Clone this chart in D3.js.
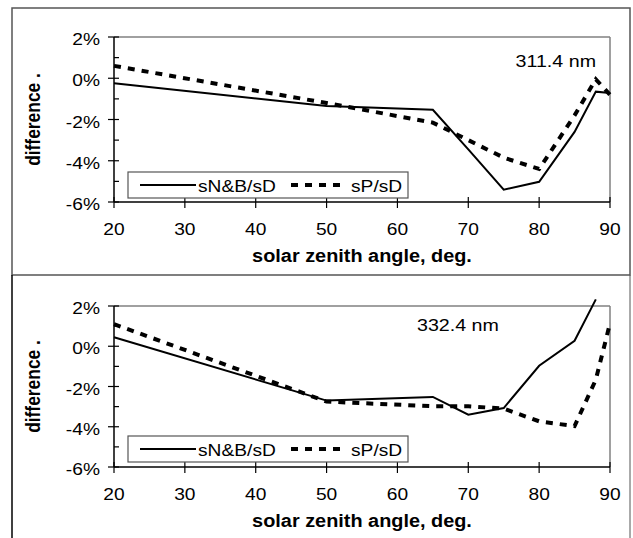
<!DOCTYPE html>
<html>
<head>
<meta charset="utf-8">
<script src="https://cdn.jsdelivr.net/npm/d3@7"></script>
<style>
  html, body { margin: 0; padding: 0; background: #fff; }
  svg { display: block; }
  text { font-family: "Liberation Sans", Arial, sans-serif; fill: #000; }
</style>
</head>
<body>
<svg id="chart" width="633" height="538"></svg>
<script>
// ---------------- data ----------------
const sza = [20, 50, 65, 70, 75, 80, 85, 88, 90];
const top_NB = [-0.24, -1.35, -1.53, -3.45, -5.40, -5.02, -2.60, -0.65, -0.72];
const top_P  = [0.60, -1.20, -2.15, -3.00, -3.85, -4.40, -1.80, -0.05, -0.80];
const bot_NB = [0.45, -2.70, -2.52, -3.40, -3.07, -0.97, 0.27, 2.33, null];
const bot_P  = [1.10, -2.75, -2.98, -2.98, -3.10, -3.73, -3.97, -1.66, 1.14];
const xTicks = [20, 30, 40, 50, 60, 70, 80, 90];
const yTicks = [-6, -4, -2, 0, 2];
const yMinor = [-5, -3, -1, 1];
const seriesNames = ["sN&B/sD", "sP/sD"];
const panelLabels = ["311.4 nm", "332.4 nm"];
const xTitle = "solar zenith angle, deg.";
const yTitle = "difference   .";

// ---------------- layout ----------------
const SX = 1.13; // horizontal stretch of text
const svg = d3.select("#chart");

// outer frames
svg.append("rect").attr("x", 12).attr("y", 8).attr("width", 618).attr("height", 267)
  .attr("fill", "none").attr("stroke", "#555").attr("stroke-width", 1.5);
svg.append("line").attr("x1", 12).attr("x2", 12).attr("y1", 275).attr("y2", 538)
  .attr("stroke", "#000").attr("stroke-width", 1.5);
svg.append("line").attr("x1", 630).attr("x2", 630).attr("y1", 275).attr("y2", 538)
  .attr("stroke", "#555").attr("stroke-width", 1);

function txt(g, x, y, s, opts = {}) {
  const t = g.append("text")
    .attr("transform", `translate(${x},${y}) scale(${opts.sx || SX},1)` + (opts.rot ? ` rotate(${opts.rot})` : ""))
    .attr("font-size", opts.size || 17)
    .attr("text-anchor", opts.anchor || "start")
    .text(s);
  if (opts.bold) t.attr("font-weight", "bold");
  return t;
}

function panel(cfg) {
  const g = svg.append("g");
  const x = d3.scaleLinear().domain([20, 90]).range([114, 610]);
  const y = d3.scaleLinear().domain([-6, 2]).range([cfg.y1, cfg.y0]);

  // plot frame (top & right gray)
  g.append("line").attr("x1", x(20)).attr("x2", x(90)).attr("y1", y(2)).attr("y2", y(2))
    .attr("stroke", "#808080").attr("stroke-width", 1.5);
  g.append("line").attr("x1", x(90)).attr("x2", x(90)).attr("y1", y(2)).attr("y2", y(-6))
    .attr("stroke", "#808080").attr("stroke-width", 1.5);

  // y axis
  g.append("line").attr("x1", x(20)).attr("x2", x(20)).attr("y1", y(2)).attr("y2", y(-6))
    .attr("stroke", "#000").attr("stroke-width", 1.5);
  yTicks.forEach(v => {
    g.append("line").attr("x1", x(20) - 6).attr("x2", x(20) + 5).attr("y1", y(v)).attr("y2", y(v))
      .attr("stroke", "#000").attr("stroke-width", 1.2);
    txt(g, 100, y(v) + 8, (v) + "%", { anchor: "end" });
  });
  yMinor.forEach(v => {
    g.append("line").attr("x1", x(20)).attr("x2", x(20) + 5).attr("y1", y(v)).attr("y2", y(v))
      .attr("stroke", "#000").attr("stroke-width", 1.2);
  });

  // x axis
  g.append("line").attr("x1", x(20)).attr("x2", x(90)).attr("y1", y(-6)).attr("y2", y(-6))
    .attr("stroke", "#000").attr("stroke-width", 1.5);
  xTicks.forEach(v => {
    g.append("line").attr("x1", x(v)).attr("x2", x(v)).attr("y1", y(-6) - 5).attr("y2", y(-6) + 6)
      .attr("stroke", "#000").attr("stroke-width", 1.2);
    txt(g, x(v), y(-6) + 33, String(v), { anchor: "middle" });
  });

  // titles
  txt(g, 362, y(-6) + 60, xTitle, { anchor: "middle", bold: true, size: 17.6 });
  txt(g, 40, (y(2) + y(-6)) / 2, yTitle, { anchor: "middle", bold: true, size: 17.4, rot: -90 });

  // series
  const line = d3.line().defined(d => d[1] !== null).x(d => x(d[0])).y(d => y(d[1]));
  g.append("path").datum(sza.map((s, i) => [s, cfg.p[i]]))
    .attr("d", line).attr("fill", "none").attr("stroke", "#000")
    .attr("stroke-width", 4).attr("stroke-dasharray", "7,7");
  g.append("path").datum(sza.map((s, i) => [s, cfg.nb[i]]))
    .attr("d", line).attr("fill", "none").attr("stroke", "#000")
    .attr("stroke-width", 2).attr("stroke-linejoin", "miter");

  // annotation
  txt(g, cfg.labX, cfg.labY, cfg.label, { anchor: cfg.labAnchor, size: 17.4 });

  // legend
  const ly0 = cfg.legY, lh = 26, lc = ly0 + lh / 2;
  g.append("rect").attr("x", 128).attr("y", ly0).attr("width", 280).attr("height", lh)
    .attr("fill", "#fff").attr("stroke", "#555").attr("stroke-width", 1.2);
  g.append("line").attr("x1", 140).attr("x2", 196).attr("y1", lc).attr("y2", lc)
    .attr("stroke", "#000").attr("stroke-width", 2);
  txt(g, 198, lc + 6.5, seriesNames[0], {});
  g.append("line").attr("x1", 291).attr("x2", 340).attr("y1", lc).attr("y2", lc)
    .attr("stroke", "#000").attr("stroke-width", 4).attr("stroke-dasharray", "7,7");
  txt(g, 351, lc + 6.5, seriesNames[1], {});
}

panel({ id: 1, y0: 37, y1: 202, nb: top_NB, p: top_P, label: panelLabels[0],
        labX: 596, labY: 67, labAnchor: "end", legY: 172 });
panel({ id: 2, y0: 306, y1: 467, nb: bot_NB, p: bot_P, label: panelLabels[1],
        labX: 417, labY: 331, labAnchor: "start", legY: 436 });
</script>
</body>
</html>
